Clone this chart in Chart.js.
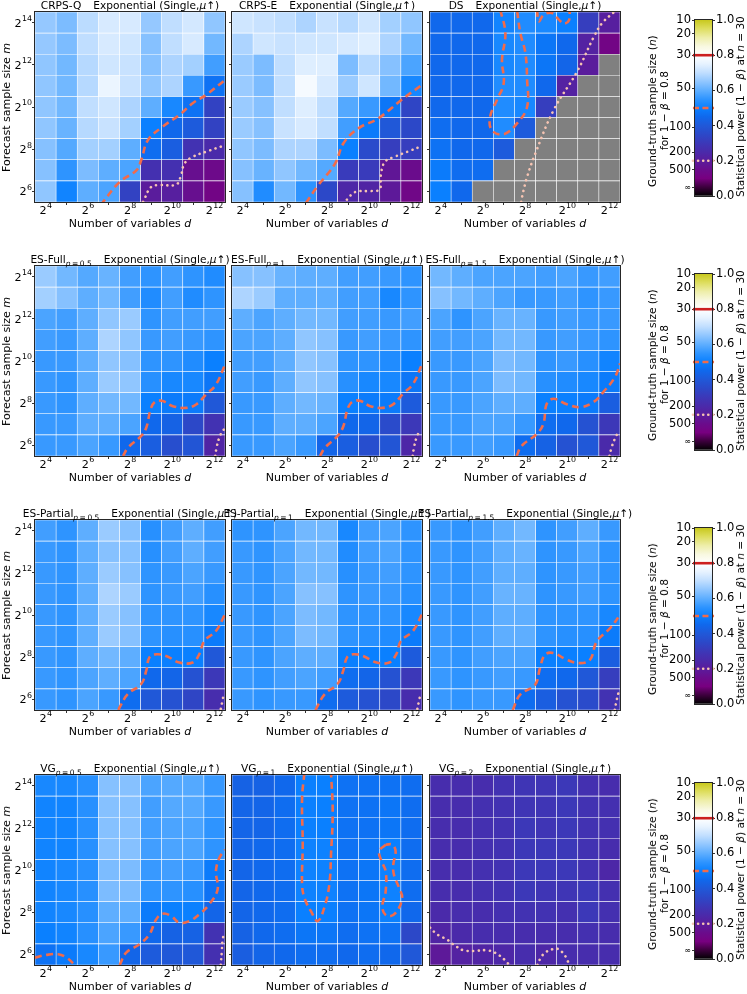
<!DOCTYPE html>
<html><head><meta charset="utf-8">
<script src="https://cdn.jsdelivr.net/npm/chart.js@4.4.0/dist/chart.umd.min.js"></script>
<style>
body{margin:0;background:#fff;width:747px;height:994px;overflow:hidden;position:relative;font-family:"DejaVu Sans",sans-serif;color:#000}
canvas{position:absolute}
.t{position:absolute;white-space:nowrap;text-align:center;color:#000}
.ttl{font-size:10.6px;line-height:13px}
.ax{font-size:11px;line-height:13px}
.cbt{font-size:10.5px;line-height:12px}
.vert{writing-mode:vertical-rl;transform:rotate(180deg)}
sub{font-size:7.5px;vertical-align:-2.5px;line-height:0}
.gap{display:inline-block;width:12px}
</style></head><body>
<script>
// ---------------- DATA ----------------
const dExp = [4,5,6,7,8,9,10,11,12];          // columns: d = 2^k
const mExp = [14,13,12,11,10,9,8,7,6];        // rows top -> bottom: m = 2^k
const xTickExp = [4,6,8,10,12];
const yTickExp = [6,8,10,12,14];
const pTicks = [0,0.2,0.4,0.6,0.8,1.0];
const pTickLabels = ['0.0','0.2','0.4','0.6','0.8','1.0'];
const nTickPos = [1.0,0.922,0.8,0.613,0.39,0.248,0.15,0.047];
const nTickLabels = ['10','20','30','50','100','200','500','∞'];
const panelNames = ['CRPS-Q','CRPS-E','DS','ES-Full','ES-Full','ES-Full','ES-Partial','ES-Partial','ES-Partial','VG','VG','VG'];
const panelP = [null,null,null,'0.5','1','1.5','0.5','1','1.5','0.5','1','2'];
const panelSuffix = 'Exponential (Single,';

// statistical power per cell (rows m=2^14..2^6, cols d=2^4..2^12), null = undefined
const crpsQ = [
 [0.655,0.63,0.695,0.73,0.73,0.655,0.70,0.725,0.65],
 [0.655,0.63,0.70,0.73,0.72,0.64,0.70,0.73,0.62],
 [0.65,0.62,0.69,0.72,0.71,0.64,0.68,0.67,0.57],
 [0.65,0.62,0.69,0.76,0.71,0.65,0.68,0.56,0.47],
 [0.65,0.62,0.70,0.72,0.68,0.60,0.52,0.47,0.33],
 [0.65,0.61,0.69,0.71,0.67,0.50,0.45,0.41,0.33],
 [0.64,0.59,0.67,0.67,0.60,0.46,0.42,0.28,0.25],
 [0.64,0.55,0.63,0.60,0.58,0.27,0.27,0.16,0.14],
 [0.65,0.51,0.60,0.58,0.33,0.20,0.21,0.16,0.12]];
const crpsE = [
 [0.72,0.71,0.70,0.68,0.71,0.69,0.72,0.67,0.65],
 [0.68,0.72,0.71,0.72,0.72,0.73,0.74,0.68,0.62],
 [0.66,0.63,0.70,0.74,0.74,0.63,0.69,0.64,0.58],
 [0.66,0.63,0.70,0.78,0.73,0.66,0.72,0.62,0.52],
 [0.66,0.64,0.70,0.74,0.70,0.59,0.56,0.48,0.34],
 [0.66,0.64,0.71,0.73,0.70,0.57,0.49,0.40,0.35],
 [0.65,0.63,0.68,0.68,0.63,0.50,0.36,0.32,0.32],
 [0.64,0.61,0.65,0.62,0.59,0.31,0.31,0.18,0.15],
 [0.64,0.53,0.62,0.55,0.35,0.24,0.23,0.19,0.13]];
const ds = [
 [0.45,0.45,0.45,0.51,0.53,0.52,0.50,0.32,0.21],
 [0.45,0.45,0.45,0.52,0.53,0.48,0.45,0.22,0.12],
 [0.45,0.45,0.45,0.52,0.53,0.48,0.44,0.20,null],
 [0.45,0.45,0.45,0.53,0.53,0.45,0.22,null,null],
 [0.45,0.45,0.45,0.53,0.52,0.32,null,null,null],
 [0.46,0.45,0.45,0.53,0.41,null,null,null,null],
 [0.47,0.45,0.45,0.41,null,null,null,null,null],
 [0.49,0.46,0.46,null,null,null,null,null,null],
 [0.50,0.45,null,null,null,null,null,null,null]];
const esFull05 = [
 [0.66,0.62,0.59,0.61,0.57,0.55,0.57,0.55,0.53],
 [0.67,0.64,0.60,0.62,0.57,0.53,0.57,0.53,0.55],
 [0.58,0.57,0.60,0.65,0.66,0.55,0.57,0.57,0.57],
 [0.57,0.56,0.60,0.68,0.65,0.56,0.57,0.56,0.55],
 [0.56,0.56,0.60,0.65,0.64,0.55,0.55,0.53,0.50],
 [0.56,0.55,0.60,0.66,0.65,0.54,0.52,0.52,0.48],
 [0.56,0.55,0.60,0.62,0.62,0.50,0.49,0.49,0.40],
 [0.56,0.56,0.60,0.60,0.58,0.45,0.43,0.35,0.28],
 [0.56,0.56,0.58,0.56,0.45,0.42,0.37,0.39,0.23]];
const esFull1 = [
 [0.64,0.64,0.61,0.60,0.60,0.57,0.57,0.56,0.55],
 [0.68,0.66,0.60,0.60,0.60,0.57,0.57,0.52,0.55],
 [0.60,0.58,0.60,0.62,0.62,0.57,0.57,0.56,0.57],
 [0.58,0.58,0.60,0.65,0.64,0.56,0.57,0.56,0.55],
 [0.57,0.57,0.60,0.65,0.64,0.55,0.55,0.53,0.50],
 [0.57,0.56,0.60,0.65,0.64,0.54,0.52,0.52,0.48],
 [0.56,0.56,0.60,0.62,0.61,0.50,0.49,0.49,0.41],
 [0.56,0.56,0.60,0.60,0.58,0.45,0.44,0.36,0.30],
 [0.56,0.56,0.58,0.56,0.44,0.42,0.37,0.39,0.24]];
const esFull15 = [
 [0.62,0.60,0.58,0.58,0.58,0.57,0.58,0.56,0.57],
 [0.64,0.62,0.60,0.58,0.56,0.56,0.57,0.55,0.56],
 [0.58,0.55,0.58,0.61,0.61,0.56,0.57,0.56,0.56],
 [0.57,0.57,0.58,0.62,0.62,0.56,0.57,0.56,0.55],
 [0.56,0.56,0.58,0.63,0.62,0.55,0.56,0.54,0.51],
 [0.56,0.56,0.58,0.63,0.62,0.54,0.53,0.52,0.49],
 [0.56,0.56,0.58,0.60,0.60,0.50,0.50,0.49,0.42],
 [0.56,0.56,0.58,0.58,0.56,0.46,0.45,0.38,0.30],
 [0.56,0.56,0.57,0.56,0.46,0.43,0.38,0.40,0.25]];
const esPart05 = [
 [0.57,0.55,0.60,0.66,0.64,0.54,0.57,0.60,0.57],
 [0.56,0.55,0.60,0.64,0.64,0.54,0.57,0.60,0.57],
 [0.56,0.55,0.60,0.66,0.64,0.55,0.56,0.58,0.56],
 [0.56,0.55,0.60,0.68,0.66,0.55,0.56,0.57,0.54],
 [0.56,0.55,0.60,0.66,0.64,0.55,0.55,0.55,0.52],
 [0.56,0.55,0.60,0.66,0.64,0.55,0.54,0.54,0.49],
 [0.56,0.55,0.60,0.62,0.60,0.50,0.50,0.50,0.40],
 [0.56,0.55,0.58,0.60,0.58,0.45,0.44,0.38,0.30],
 [0.56,0.55,0.58,0.56,0.46,0.40,0.38,0.34,0.26]];
const esPart1 = [
 [0.55,0.55,0.58,0.62,0.62,0.52,0.57,0.58,0.55],
 [0.56,0.55,0.58,0.62,0.62,0.53,0.57,0.58,0.55],
 [0.56,0.55,0.58,0.62,0.62,0.54,0.56,0.57,0.55],
 [0.56,0.55,0.58,0.64,0.64,0.55,0.56,0.56,0.54],
 [0.56,0.55,0.58,0.63,0.62,0.55,0.55,0.55,0.52],
 [0.56,0.55,0.58,0.63,0.62,0.55,0.54,0.53,0.49],
 [0.56,0.55,0.58,0.60,0.60,0.50,0.50,0.50,0.41],
 [0.56,0.55,0.57,0.58,0.57,0.46,0.44,0.38,0.30],
 [0.56,0.55,0.56,0.56,0.46,0.41,0.38,0.35,0.26]];
const esPart15 = [
 [0.56,0.55,0.57,0.60,0.62,0.55,0.57,0.60,0.56],
 [0.56,0.55,0.57,0.60,0.61,0.55,0.56,0.58,0.55],
 [0.56,0.55,0.57,0.60,0.60,0.55,0.56,0.57,0.55],
 [0.56,0.55,0.57,0.61,0.61,0.55,0.56,0.57,0.55],
 [0.56,0.55,0.57,0.60,0.60,0.55,0.55,0.55,0.52],
 [0.56,0.55,0.57,0.60,0.60,0.55,0.54,0.54,0.49],
 [0.56,0.55,0.57,0.58,0.58,0.50,0.50,0.50,0.42],
 [0.56,0.55,0.56,0.57,0.56,0.46,0.45,0.40,0.32],
 [0.56,0.55,0.56,0.56,0.46,0.42,0.38,0.36,0.28]];
const vg05 = [
 [0.52,0.52,0.54,0.64,0.64,0.58,0.59,0.59,0.56],
 [0.51,0.51,0.54,0.64,0.64,0.57,0.59,0.59,0.56],
 [0.51,0.51,0.54,0.64,0.64,0.57,0.58,0.58,0.55],
 [0.51,0.51,0.54,0.64,0.64,0.57,0.58,0.58,0.55],
 [0.51,0.52,0.54,0.63,0.63,0.56,0.57,0.56,0.49],
 [0.51,0.52,0.54,0.63,0.63,0.55,0.55,0.54,0.47],
 [0.51,0.52,0.54,0.60,0.60,0.49,0.50,0.50,0.44],
 [0.50,0.51,0.54,0.58,0.56,0.45,0.43,0.43,0.28],
 [0.47,0.49,0.52,0.56,0.44,0.41,0.40,0.40,0.27]];
const vg1 = [
 [0.43,0.43,0.45,0.50,0.50,0.47,0.47,0.47,0.46],
 [0.44,0.44,0.46,0.50,0.50,0.47,0.47,0.48,0.46],
 [0.44,0.44,0.46,0.50,0.50,0.47,0.47,0.48,0.46],
 [0.44,0.45,0.46,0.505,0.505,0.47,0.48,0.50,0.46],
 [0.44,0.45,0.46,0.505,0.505,0.47,0.48,0.505,0.46],
 [0.44,0.45,0.46,0.505,0.505,0.47,0.48,0.505,0.46],
 [0.44,0.45,0.46,0.50,0.50,0.47,0.48,0.50,0.45],
 [0.43,0.45,0.46,0.48,0.48,0.46,0.47,0.47,0.35],
 [0.42,0.44,0.45,0.46,0.46,0.45,0.46,0.45,0.40]];
const vg2 = [
 [0.26,0.26,0.26,0.28,0.29,0.29,0.30,0.27,0.26],
 [0.26,0.26,0.27,0.28,0.29,0.29,0.30,0.28,0.27],
 [0.26,0.26,0.27,0.28,0.30,0.29,0.30,0.28,0.27],
 [0.26,0.26,0.27,0.28,0.30,0.30,0.30,0.28,0.26],
 [0.26,0.26,0.27,0.28,0.30,0.30,0.30,0.28,0.24],
 [0.26,0.26,0.27,0.28,0.30,0.29,0.29,0.30,0.27],
 [0.25,0.26,0.26,0.27,0.28,0.28,0.27,0.30,0.27],
 [0.23,0.25,0.26,0.26,0.26,0.26,0.26,0.27,0.26],
 [0.19,0.22,0.23,0.24,0.26,0.24,0.26,0.26,0.26]];

// contour lines, points as [log2 d, log2 m]; dashed = power 0.5, dotted = power 0.2
const crpsQ_dash = [[6.6,5.35],[6.72,5.5],[7.51,6.45],[8.3,7.0],[8.53,7.48],[8.85,8.43],[9.55,9.07],[10.34,9.62],[10.97,10.18],[11.6,10.57],[12.5,11.28]];
const crpsQ_dot = [[8.62,5.5],[8.69,5.66],[9.0,6.21],[9.4,6.3],[10.18,6.32],[10.4,6.7],[10.58,7.32],[10.97,7.64],[11.6,7.88],[12.5,8.19]];
const crpsE_dash = [[7.0,5.45],[7.53,6.22],[8.39,7.33],[8.78,8.28],[9.49,8.99],[10.43,9.46],[11.52,10.33],[12.5,11.05]];
const crpsE_dot = [[8.94,5.61],[9.33,5.97],[10.11,6.02],[10.5,6.1],[10.55,6.77],[10.74,7.4],[11.2,7.64],[11.99,7.95],[12.5,8.15]];
const ds_dashA = [[6.83,14.6],[7.07,13.5],[6.91,12.23],[6.99,11.12],[6.67,10.33],[6.35,9.54],[6.43,8.9],[6.99,8.71],[7.62,9.22],[8.1,10.01],[8.1,11.28],[8.02,12.55],[7.78,13.5],[7.62,14.6]];
const ds_dashB = [[8.57,14.6],[8.65,14.06],[8.89,14.37],[9.28,14.45],[9.6,14.14],[9.84,13.95],[10.08,14.1],[10.12,14.6]];
const ds_dot = [[7.82,5.5],[7.86,5.74],[8.1,6.69],[8.49,7.8],[9.36,9.86],[10.47,11.68],[11.27,13.34],[11.66,13.98],[12.22,14.5]];
const esFull05_dash = [[7.67,5.5],[7.9,5.89],[8.53,6.45],[8.77,6.84],[9.0,7.78],[9.24,8.1],[9.55,8.1],[10.03,7.86],[10.65,7.78],[11.13,7.94],[11.6,8.41],[12.07,8.88],[12.5,9.82]];
const esFull05_dot = [[12.04,5.5],[12.1,5.89],[12.23,6.37],[12.38,6.68],[12.5,6.8]];
const esFull1_dash = [[7.67,5.5],[7.9,5.89],[8.5,6.45],[8.77,6.9],[9.0,7.8],[9.25,8.1],[9.6,8.1],[10.05,7.86],[10.65,7.78],[11.15,7.96],[11.6,8.45],[12.07,8.9],[12.5,9.85]];
const esFull1_dot = [[12.06,5.5],[12.12,5.9],[12.25,6.4],[12.4,6.7]];
const esFull15_dash = [[7.6,5.5],[7.84,5.98],[8.55,6.54],[8.87,7.02],[9.03,7.97],[9.35,8.21],[9.98,7.95],[10.61,7.81],[11.24,8.05],[11.71,8.53],[12.27,9.25],[12.5,9.88]];
const esFull15_dot = [[12.0,5.5],[12.1,5.9],[12.25,6.3],[12.42,6.65]];
const esPart05_dash = [[7.45,5.5],[7.51,5.63],[7.9,6.26],[8.53,6.73],[8.77,7.36],[8.92,7.99],[9.24,8.14],[9.71,8.06],[10.34,7.75],[10.97,7.75],[11.28,8.14],[11.52,8.77],[12.07,9.24],[12.5,10.03]];
const esPart05_dot = [[12.3,5.55],[12.38,5.94],[12.45,6.3]];
const esPart1_dash = [[7.45,5.5],[7.9,6.26],[8.5,6.73],[8.77,7.36],[8.95,7.99],[9.25,8.14],[9.7,8.06],[10.35,7.75],[10.95,7.75],[11.28,8.14],[11.5,8.77],[12.07,9.24],[12.5,10.03]];
const esPart1_dot = [[12.28,5.55],[12.36,5.94],[12.44,6.3]];
const esPart15_dash = [[7.42,5.5],[7.77,6.23],[8.48,6.7],[8.71,7.49],[8.95,8.12],[9.35,8.2],[9.98,7.88],[10.61,7.72],[11.08,7.88],[11.4,8.75],[12.03,9.38],[12.5,10.0]];
const esPart15_dot = [[12.25,5.5],[12.35,6.0],[12.45,6.4]];
const vg05_dashA = [[3.5,5.85],[4.05,5.98],[4.6,6.01],[4.99,5.85],[5.39,5.5]];
const vg05_dashB = [[7.51,5.5],[7.82,6.09],[8.45,6.48],[8.92,6.95],[9.24,7.66],[9.55,7.93],[9.95,7.82],[10.34,7.5],[10.81,7.58],[11.28,7.9],[11.75,8.37],[12.15,9.08],[12.07,9.94],[12.23,10.57],[12.5,10.96]];
const vg05_dot = [[12.3,5.5],[12.35,6.17],[12.38,6.64],[12.45,7.0]];
const vg1_dashA = [[6.93,14.6],[6.82,13.4],[6.85,11.2],[6.82,9.31],[6.93,8.68],[7.24,8.05],[7.56,7.58],[7.87,8.21],[8.11,9.31],[8.19,10.73],[8.27,12.77],[8.19,14.6]];
const vg1_dashB = [[10.78,11.2],[10.47,10.88],[10.59,10.41],[10.78,9.94],[10.78,9.0],[10.62,8.21],[10.86,7.82],[11.25,7.97],[11.56,8.68],[11.41,9.16],[11.17,9.78],[11.14,10.26],[11.25,10.88],[11.09,11.2],[10.78,11.2]];
const vg2_dotA = [[3.5,7.27],[3.74,7.03],[3.97,6.87],[4.29,6.72],[4.53,6.53],[4.76,6.37],[5.08,6.2],[5.55,6.16],[6.19,6.2],[6.58,6.08],[6.82,5.93],[7.06,5.72],[7.26,5.5]];
const vg2_dotB = [[8.59,5.5],[8.75,5.85],[8.95,6.08],[9.27,6.24],[9.53,6.27],[9.79,6.08],[9.95,5.85],[10.1,5.5]];

// colormap (power -> colour)
const cmapStops = [0,0.05,0.1,0.15,0.2,0.25,0.3,0.35,0.4,0.45,0.5,0.55,0.6,0.65,0.7,0.75,0.8,0.85,0.9,0.95,1.0];
const cmapColors = ['#000000','#3c003c','#780080','#6a0c8c','#5a1c9c','#4a2aaa','#3c38b8','#2c48c8','#2058d8','#1068ec','#0a80ff','#2e94ff','#5eaeff','#90c6ff','#c0deff','#e6f2ff','#ffffff','#f8f8e0','#eeeeaa','#dede60','#c8c81e'];
const NAN_COLOR = '#808080';

// ---------------- LAYOUT ----------------
const S = 190;
const colLefts = [35, 232, 430];
const rowTops = [12, 266, 520, 775];
const panels = [
 {v:crpsQ, dash:[crpsQ_dash], dot:[crpsQ_dot]},
 {v:crpsE, dash:[crpsE_dash], dot:[crpsE_dot]},
 {v:ds, dash:[ds_dashA, ds_dashB], dot:[ds_dot]},
 {v:esFull05, dash:[esFull05_dash], dot:[esFull05_dot]},
 {v:esFull1, dash:[esFull1_dash], dot:[esFull1_dot]},
 {v:esFull15, dash:[esFull15_dash], dot:[esFull15_dot]},
 {v:esPart05, dash:[esPart05_dash], dot:[esPart05_dot]},
 {v:esPart1, dash:[esPart1_dash], dot:[esPart1_dot]},
 {v:esPart15, dash:[esPart15_dash], dot:[esPart15_dot]},
 {v:vg05, dash:[vg05_dashA, vg05_dashB], dot:[vg05_dot]},
 {v:vg1, dash:[vg1_dashA, vg1_dashB], dot:[]},
 {v:vg2, dash:[], dot:[vg2_dotA, vg2_dotB]}
];

Chart.defaults.font.family = "'DejaVu Sans', sans-serif";
Chart.defaults.color = '#000';

function hex2rgb(h){return [parseInt(h.slice(1,3),16),parseInt(h.slice(3,5),16),parseInt(h.slice(5,7),16)];}
function cmap(v){
  if (v <= 0) return cmapColors[0];
  if (v >= 1) return cmapColors[cmapColors.length-1];
  let i = 0; while (cmapStops[i+1] < v) i++;
  const t = (v - cmapStops[i]) / (cmapStops[i+1] - cmapStops[i]);
  const a = hex2rgb(cmapColors[i]), b = hex2rgb(cmapColors[i+1]);
  const c = a.map((x,k)=>Math.round(x + (b[k]-x)*t));
  return `rgb(${c[0]},${c[1]},${c[2]})`;
}

const framePlugin = {id:'frame', afterDatasetsDraw(chart){
  const a = chart.chartArea, c = chart.ctx;
  c.save(); c.strokeStyle = '#262626'; c.lineWidth = 1;
  c.strokeRect(a.left-0.5, a.top-0.5, a.right-a.left+1, a.bottom-a.top+1);
  c.restore();
}};

// tick labels of the form 2^k, drawn with a real superscript at each scale tick
const BASE_FONT = "11.2px 'DejaVu Sans'", EXP_FONT = "7.9px 'DejaVu Sans'";
const powTicksPlugin = {id:'powTicks', afterDraw(chart, args, opts){
  const c = chart.ctx, a = chart.chartArea;
  c.save(); c.fillStyle = '#000'; c.textAlign = 'left'; c.textBaseline = 'alphabetic';
  const widths = (e) => { c.font = BASE_FONT; const wb = c.measureText('2').width; c.font = EXP_FONT; const we = c.measureText(String(e)).width; return [wb, we]; };
  chart.scales.x.ticks.forEach(t => {
    const px = chart.scales.x.getPixelForValue(t.value);
    const [wb, we] = widths(t.value);
    const x0 = px - (wb + we) / 2;
    c.font = BASE_FONT; c.fillText('2', x0, a.bottom + 12.4);
    c.font = EXP_FONT; c.fillText(String(t.value), x0 + wb + 0.3, a.bottom + 5.7);
  });
  if (opts.showY) {
    chart.scales.y.ticks.forEach(t => {
      const py = chart.scales.y.getPixelForValue(t.value);
      const [wb, we] = widths(t.value);
      const xr = a.left - 3;
      c.font = BASE_FONT; c.fillText('2', xr - we - wb - 0.3, py + 4.0);
      c.font = EXP_FONT; c.fillText(String(t.value), xr - we, py - 1.6);
    });
  }
  c.restore();
}};

function addText(html, cls, cx, cy, w, h){
  const d = document.createElement('div');
  d.className = 't ' + cls;
  d.innerHTML = html;
  d.style.left = Math.round(cx - w/2) + 'px'; d.style.top = Math.round(cy - h/2) + 'px';
  d.style.width = w + 'px'; d.style.height = h + 'px';
  document.body.appendChild(d);
}

function lineDs(seg, kind){
  const dash = kind === 'dash';
  return {type:'line', data: seg.map(p=>({x:p[0], y:p[1]})), order:0,
    borderColor: dash ? '#f26b4a' : '#f6c4b2', borderWidth: 2.6,
    borderDash: dash ? [7,4.5] : [0.1,5.5], borderCapStyle: dash ? 'butt' : 'round',
    pointRadius:0, tension:0.4, fill:false};
}

function heatChart(p, idx){
  const ci = idx % 3, ri = Math.floor(idx / 3);
  const YW = 36, TP = 10, RP = 12, XH = 30;
  const cv = document.createElement('canvas');
  cv.width = YW + S + RP; cv.height = TP + S + XH;
  cv.style.left = (colLefts[ci] - YW) + 'px'; cv.style.top = (rowTops[ri] - TP) + 'px';
  document.body.appendChild(cv);
  const cells = [], colors = [];
  p.v.forEach((row, i) => row.forEach((val, j) => {
    cells.push({x: dExp[j], y: [mExp[i]-0.5, mExp[i]+0.5]});
    colors.push(val === null ? NAN_COLOR : cmap(val));
  }));
  const datasets = [];
  p.dash.forEach(s => datasets.push(lineDs(s, 'dash')));
  p.dot.forEach(s => datasets.push(lineDs(s, 'dot')));
  datasets.push({type:'bar', data: cells, backgroundColor: colors, borderColor:'rgba(255,255,255,0.85)',
    borderWidth:0.6, borderSkipped:false, grouped:false, barPercentage:1, categoryPercentage:1, order:10});
  new Chart(cv, {
    type:'bar', data:{datasets},
    options:{
      responsive:false, animation:false, events:[],
      layout:{padding:{left:0, right:RP, top:TP, bottom:0}},
      plugins:{legend:{display:false}, tooltip:{enabled:false}, title:{display:false}, powTicks:{showY: ci === 0}},
      scales:{
        x:{type:'linear', min:3.5, max:12.5, offset:false,
           afterBuildTicks: s => { s.ticks = xTickExp.map(v=>({value:v})); },
           afterFit: s => { s.height = XH; },
           ticks:{display:false},
           grid:{display:true, drawOnChartArea:false, tickLength:3, color:'#333'}, border:{display:false}},
        y:{type:'linear', min:5.5, max:14.5,
           afterBuildTicks: s => { s.ticks = yTickExp.map(v=>({value:v})); },
           afterFit: s => { s.width = YW; },
           ticks:{display:false},
           grid:{display:true, drawOnChartArea:false, tickLength:3, color:'#333'}, border:{display:false}}
      }
    },
    plugins:[framePlugin, powTicksPlugin]
  });
  // titles & axis labels
  const cx = colLefts[ci] + S/2;
  const nm = panelNames[idx] + (panelP[idx] ? `<sub><i>p</i>\u2009=\u2009${panelP[idx]}</sub>` : '');
  addText(`${nm}<span class="gap"></span>${panelSuffix}<i>μ</i>↑)`, 'ttl', cx, rowTops[ri] - 6.5, 320, 13);
  addText('Number of variables <i>d</i>', 'ax', cx, rowTops[ri] + S + 21.5, 200, 13);
  if (ci === 0) addText('Forecast sample size <i>m</i>', 'ax vert', 6, rowTops[ri] + S/2, 13, 200);
}

function colorbar(ri){
  const LW = 42, RW = 32, PAD = 10, cbW = 17, cbH = 175.5;
  const cbLeft = 695, cbTop = rowTops[ri] + 7.5;
  const cv = document.createElement('canvas');
  cv.width = LW + cbW + RW; cv.height = Math.round(cbH + 2*PAD);
  cv.style.left = (cbLeft - LW) + 'px'; cv.style.top = (cbTop - PAD) + 'px';
  document.body.appendChild(cv);
  const levelLine = (y, color, dash, cap) => ({type:'line', data:[{x:-0.12,y},{x:1.12,y}], order:0, clip:false,
    borderColor:color, borderWidth:2.6, borderDash:dash, borderCapStyle:cap, pointRadius:0, fill:false});
  new Chart(cv, {
    type:'bar',
    data:{datasets:[
      levelLine(0.8, '#cc1f1f', [], 'butt'),
      levelLine(0.5, '#f26b4a', [6,3.5], 'butt'),
      levelLine(0.2, '#f6c4b2', [0.1,5], 'round'),
      {type:'bar', data:[{x:0.5, y:[0,1]}], order:10, barPercentage:1, categoryPercentage:1, borderWidth:0,
       backgroundColor: (ctx) => {
         const ch = ctx.chart, ys = ch.scales.y;
         if (!ch.chartArea || !ys) return '#888';
         const g = ch.ctx.createLinearGradient(0, ys.getPixelForValue(0), 0, ys.getPixelForValue(1));
         cmapStops.forEach((s,i) => g.addColorStop(s, cmapColors[i]));
         return g;
       }}
    ]},
    options:{
      responsive:false, animation:false, events:[],
      layout:{padding:{left:0, right:0, top:PAD, bottom:PAD}},
      plugins:{legend:{display:false}, tooltip:{enabled:false}},
      scales:{
        x:{type:'linear', min:0, max:1, display:false, offset:false},
        y:{type:'linear', position:'right', min:0, max:1,
           afterBuildTicks: s => { s.ticks = pTicks.map(v=>({value:v})); },
           afterFit: s => { s.width = RW; },
           ticks:{callback: (v,i) => pTickLabels[i], font:{size:11.5}, color:'#000', padding:1, autoSkip:false},
           grid:{display:true, drawOnChartArea:false, tickLength:3, color:'#333'}, border:{display:false}},
        yn:{type:'linear', position:'left', min:0, max:1,
           afterBuildTicks: s => { s.ticks = nTickPos.map(v=>({value:v})); },
           afterFit: s => { s.width = LW; },
           ticks:{callback: (v,i) => nTickLabels[i], font: (c) => ({size: c.index === 7 ? 8 : 11.5}), color:'#000', padding:1, autoSkip:false},
           grid:{display:true, drawOnChartArea:false, tickLength:3, color:'#333'}, border:{display:false}}
      }
    },
    plugins:[framePlugin]
  });
  const cy = cbTop + cbH/2;
  addText('Statistical power (1 − <i>β</i>) at <i>n</i> = 30', 'cbt vert', 740, cy, 12, 220);
  addText('Ground-truth sample size (<i>n</i>)<br>for 1 − <i>β</i> = 0.8', 'cbt vert', 658, cy + 4, 24, 200);
}

panels.forEach((p, i) => heatChart(p, i));
[0,1,2,3].forEach(r => colorbar(r));
</script>
</body></html>
